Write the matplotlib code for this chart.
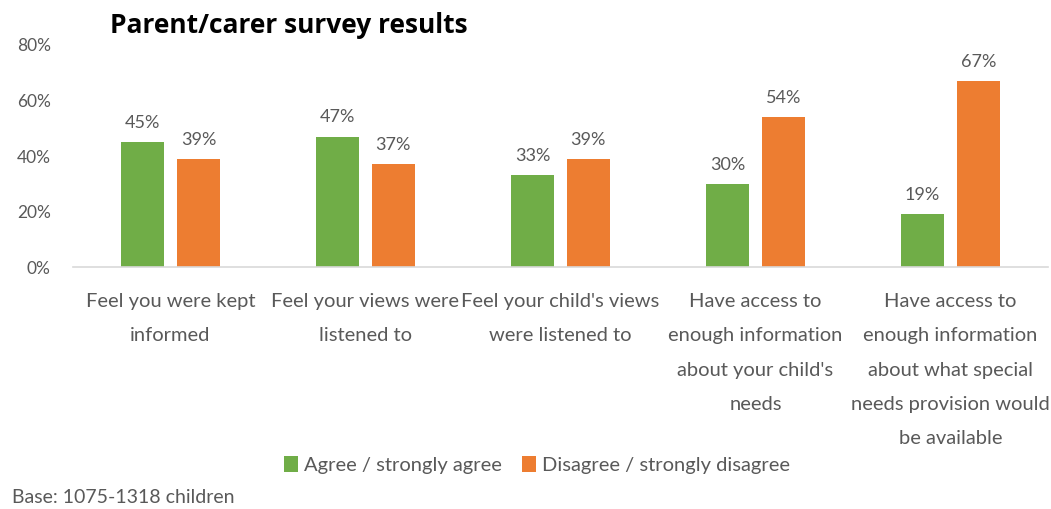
import numpy as np
import matplotlib.pyplot as plt

# data
categories = [
    'Feel you were kept\ninformed',
    'Feel your views were\nlistened to',
    "Feel your child's views\nwere listened to",
    "Have access to\nenough information\nabout your child's\nneeds",
    'Have access to\nenough information\nabout what special\nneeds provision would\nbe available',
]
agree = [0.45, 0.47, 0.33, 0.30, 0.19]
disagree = [0.39, 0.37, 0.39, 0.54, 0.67]
series_names = ['Agree / strongly agree', 'Disagree / strongly disagree']
yticks = [0, 0.2, 0.4, 0.6, 0.8]

GREEN = '#70AD47'
ORANGE = '#ED7D31'
GREY = '#595959'

plt.rcParams['font.family'] = ['Lato', 'DejaVu Sans']

fig = plt.figure(figsize=(10.51, 5.09), dpi=100)
ax = fig.add_axes([0.0695, 0.4754, 0.9275, 0.4362])

x = np.arange(len(categories))
w = 0.22
off = 0.143
b1 = ax.bar(x - off, agree, w, color=GREEN, label=series_names[0])
b2 = ax.bar(x + off, disagree, w, color=ORANGE, label=series_names[1])

for bars, vals in ((b1, agree), (b2, disagree)):
    for r, v in zip(bars, vals):
        ax.annotate(f'{v:.0%}', (r.get_x() + r.get_width() / 2, v),
                    xytext=(0, 8), textcoords='offset points',
                    ha='center', va='bottom', fontsize=13, color=GREY)

ax.set_xlim(-0.5, len(categories) - 0.5)
ax.set_ylim(0, 0.8)
ax.set_yticks(yticks)
ax.set_yticklabels([f'{t:.0%}' for t in yticks], fontsize=12.5, color=GREY)
ax.set_xticks(x)
ax.set_xticklabels(categories, fontsize=14.5, color=GREY, linespacing=2.22,
                   va='top')
ax.tick_params(axis='both', length=0)
ax.tick_params(axis='x', pad=19)
ax.tick_params(axis='y', pad=16)
for s in ['top', 'right', 'left']:
    ax.spines[s].set_visible(False)
ax.spines['bottom'].set_color('#D9D9D9')
ax.spines['bottom'].set_linewidth(1.2)

fig.text(0.105, 0.95, 'Parent/carer survey results', fontsize=19,
         fontweight='bold', family=['Open Sans', 'DejaVu Sans'], va='center')

fig.legend(handles=[b1, b2], labels=series_names, loc='center left',
           bbox_to_anchor=(0.253, 0.087), ncol=2, frameon=False,
           fontsize=14.5, labelcolor=GREY, handlelength=0.7,
           handleheight=0.9, handletextpad=0.3, columnspacing=1.0)

fig.text(0.011, 0.023, 'Base: 1075-1318 children', fontsize=14,
         color=GREY, va='center')

fig.savefig('out.png', dpi=100)
